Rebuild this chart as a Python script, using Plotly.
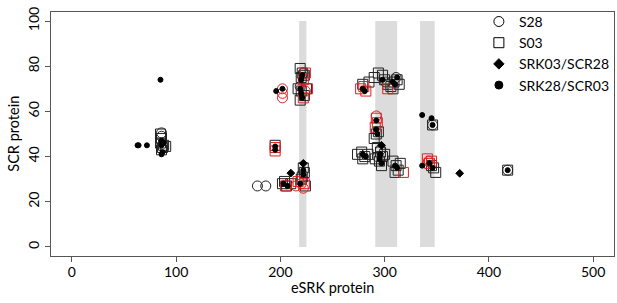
import plotly.graph_objects as go

# Shaded regions on eSRK protein axis (start, end)
band_start = [218, 291, 334]
band_end = [225, 312, 348]

# S28 (open circles), black
s28_x = [86, 86, 178, 186, 219, 301, 311, 296, 346, 418, 222, 293]
s28_y = [50.5, 49, 27, 27, 71, 73, 75, 43, 54, 34, 77, 40]
# S28 highlighted (red)
s28r_x = [202, 202, 202, 215, 220, 222, 292, 342, 224]
s28r_y = [70, 68, 66, 27, 28, 26, 58, 38, 69]

# S03 (open squares), black
s03_x = [85, 86, 85, 88, 90, 86, 87, 195,
         202, 206, 210, 204, 220, 224,
         222, 223, 221,
         219, 221, 220, 223, 217, 220, 223, 219, 225,
         279, 285, 290, 294, 298, 300, 303, 306, 309, 312, 314, 308,
         292, 290, 294,
         274, 278, 281, 284, 279, 293, 296, 298, 295, 297, 291, 300,
         308, 311, 313, 310, 315,
         346, 347, 349, 345, 418]
s03_y = [50, 48, 46, 45, 44.5, 43, 44, 45,
         28, 27, 28, 29, 30, 27,
         35, 33, 31,
         79, 77, 75, 76, 70, 69, 67, 65, 70,
         72, 73, 75, 77, 76, 74, 72, 71, 73, 74, 72, 70,
         50, 48, 51,
         41, 42, 40, 41, 39, 44, 42, 40, 38, 36, 39, 41,
         38, 36, 34, 33, 37,
         54, 35, 33, 36, 34]
# S03 highlighted (red)
s03r_x = [195, 195, 205, 217, 223, 224, 222, 226, 222,
          277, 280, 282, 303, 292, 293, 291, 318, 341, 343, 345]
s03r_y = [44, 42.5, 27, 29, 28, 77, 74, 70, 66,
          70, 71, 69, 70, 57, 55, 53, 33, 39, 37, 38]

# SRK03/SCR28 (filled diamonds)
srk03_x = [210, 372, 222, 297]
srk03_y = [32.7, 32.6, 37, 45]

# SRK28/SCR03 (filled circles)
srk28_x = [63, 64, 72, 85, 86, 87, 86, 88, 86, 196, 202, 195, 195,
           203, 207, 219, 222, 222,
           221, 220, 220, 221, 219,
           279, 281, 298, 308, 310, 312, 292, 292, 293,
           279, 282, 296, 295, 297, 310, 312,
           336, 345, 346, 343, 346, 336, 418]
srk28_y = [45, 45, 45, 74, 45, 42, 41, 46, 47, 69, 70, 43, 44.5,
           28, 27, 28, 34, 32,
           76, 74, 68, 66, 70,
           70, 69, 74, 73, 72, 75, 56, 52, 50,
           41, 40, 41, 39, 37, 36, 35,
           58.4, 57, 54, 37, 35, 36, 34]

FONT = "Lato, 'Open Sans', sans-serif"

fig = go.Figure()

for xs, ys, sym, col, name, size in [
    (s03_x, s03_y, "square-open", "#222222", "S03", 10),
    (s28_x, s28_y, "circle-open", "#222222", "S28", 10),
    (s03r_x, s03r_y, "square-open", "#e02020", "S03 red", 10),
    (s28r_x, s28r_y, "circle-open", "#e02020", "S28 red", 10),
    (srk28_x, srk28_y, "circle", "#000000", "SRK28/SCR03", 5),
    (srk03_x, srk03_y, "diamond", "#000000", "SRK03/SCR28", 6),
]:
    fig.add_trace(go.Scatter(x=xs, y=ys, mode="markers", name=name, showlegend=False,
                             marker=dict(symbol=sym, color=col, size=size,
                                         line=dict(width=1, color=col))))

# Legend entries (order as in reference)
for sym, name, size in [("circle-open", "S28", 10), ("square-open", "S03", 10),
                        ("diamond", "SRK03/SCR28", 8), ("circle", "SRK28/SCR03", 8)]:
    fig.add_trace(go.Scatter(x=[None], y=[None], mode="markers", name=name,
                             marker=dict(symbol=sym, color="#000000", size=size,
                                         line=dict(width=1, color="#000000"))))

for a, b in zip(band_start, band_end):
    fig.add_shape(type="rect", xref="x", yref="y", x0=a, x1=b, y0=0, y1=100,
                  fillcolor="#dcdcdc", line=dict(width=0), layer="below")

fig.update_layout(
    width=617, height=303,
    margin=dict(l=51, r=3, t=12, b=47, autoexpand=False),
    plot_bgcolor="white", paper_bgcolor="white",
    font=dict(family=FONT, size=14, color="#000000"),
    legend=dict(x=0.76, y=1.025, xanchor="left", yanchor="top",
                bgcolor="rgba(0,0,0,0)", font=dict(size=14),
                itemwidth=30, tracegroupgap=0),
    annotations=[
        dict(text="eSRK protein", xref="paper", yref="paper", x=0.5, y=-0.13,
             xanchor="center", yanchor="middle", showarrow=False, font=dict(size=14.5)),
        dict(text="SCR protein", xref="paper", yref="paper", x=-0.068, y=0.5,
             xanchor="center", yanchor="middle", textangle=-90, showarrow=False,
             font=dict(size=14.5)),
    ],
)
fig.update_xaxes(range=[-20, 520], tickvals=[0, 100, 200, 300, 400, 500],
                 showgrid=False, zeroline=False, showline=True, mirror=True,
                 linecolor="#555555", linewidth=1, ticks="outside", ticklen=5,
                 tickcolor="#555555", ticklabelstandoff=-2)
fig.update_yaxes(range=[-4, 104], tickvals=[0, 20, 40, 60, 80, 100], tickangle=-90,
                 showgrid=False, zeroline=False, showline=True, mirror=True,
                 linecolor="#555555", linewidth=1, ticks="outside", ticklen=5,
                 tickcolor="#555555")

fig.write_html("out.html", config={"displayModeBar": False},
               post_script="document.body.style.margin='0';document.body.style.overflow='hidden';")
